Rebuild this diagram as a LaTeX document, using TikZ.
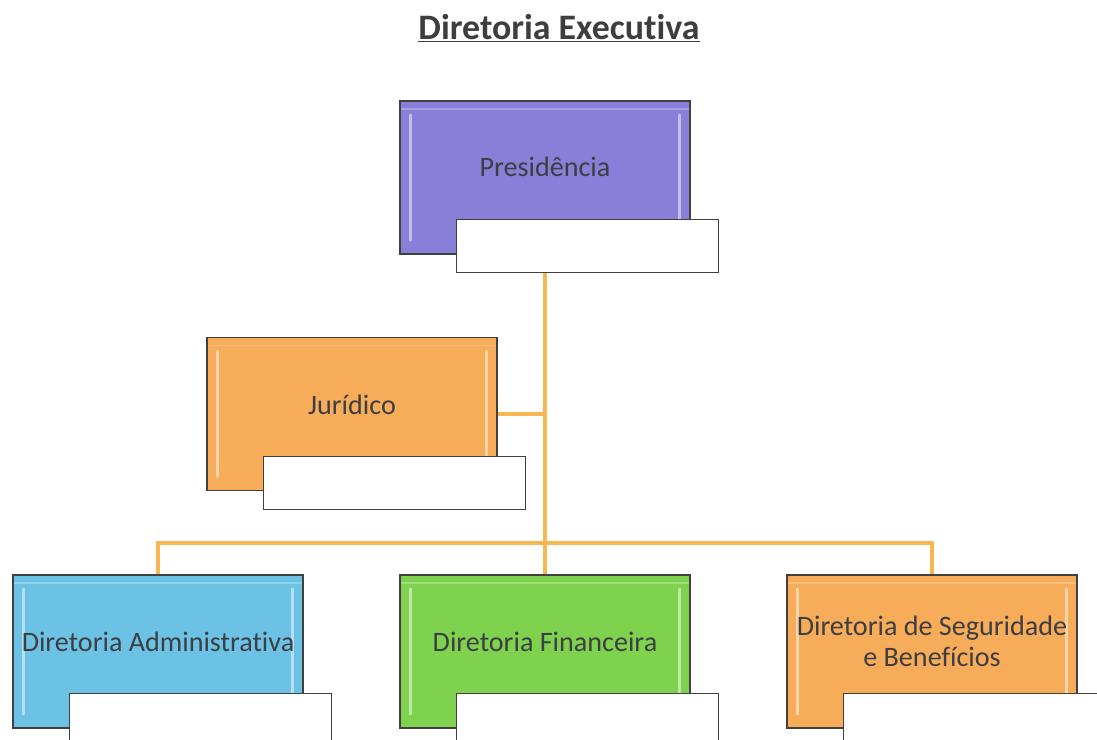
\documentclass[tikz,border=0pt]{standalone}
\usepackage{fontspec}
\setmainfont[Ligatures=NoCommon]{Carlito}
\usepackage{xcolor}
\usetikzlibrary{positioning,calc}

\definecolor{presColor}{RGB}{137,127,216}
\definecolor{jurColor}{RGB}{246,172,88}
\definecolor{admColor}{RGB}{108,194,228}
\definecolor{finColor}{RGB}{126,210,78}
\definecolor{lineColor}{RGB}{247,182,82}
\definecolor{txtColor}{RGB}{62,62,66}

\begin{document}
\begin{tikzpicture}[
  x=0.025cm, y=-0.025cm,
  box/.style={rectangle, draw=black!75, line width=1.1pt,
    minimum width=7.25cm, minimum height=3.825cm, inner sep=0pt,
    path picture={
      \draw[white, opacity=0.5, line width=2.2pt, line cap=round]
        ([xshift=2.6mm,yshift=-3.5mm]path picture bounding box.north west) --
        ([xshift=2.6mm,yshift=3.5mm]path picture bounding box.south west);
      \draw[white, opacity=0.5, line width=2.2pt, line cap=round]
        ([xshift=-2.6mm,yshift=-3.5mm]path picture bounding box.north east) --
        ([xshift=-2.6mm,yshift=3.5mm]path picture bounding box.south east);
      \draw[white, opacity=0.25, line width=0.8pt]
        ([yshift=-2mm]path picture bounding box.north west) --
        ([yshift=-2mm]path picture bounding box.north east);
    }},
  sub/.style={rectangle, draw=black!75, line width=0.8pt, fill=white,
    minimum width=6.55cm, minimum height=1.325cm, anchor=north west},
  txt/.style={font=\fontsize{20}{22}\selectfont, text=txtColor, align=center},
  link/.style={draw=lineColor, line width=2.4pt},
]
  \useasboundingbox (0,0) rectangle (1097,740);
  \clip (0,0) rectangle (1097,740);

  % title
  \node[font=\fontsize{25.5}{29}\selectfont\bfseries, text=txtColor] (title) at (559,28)
    {\underline{Diretoria Executiva}};

  % main boxes
  \node[box, fill=presColor, label={[txt, yshift=0.26cm]center:Presidência}] (pres) at (545,177.5) {};
  \node[box, fill=jurColor, label={[txt, yshift=0.22cm]center:Jurídico}] (jur) at (352,414) {};
  \node[box, fill=admColor, label={[txt, yshift=0.25cm]center:Diretoria Administrativa}] (adm) at (158,651.5) {};
  \node[box, fill=finColor, label={[txt, yshift=0.25cm]center:Diretoria Financeira}] (fin) at (545,651.5) {};
  \node[box, fill=jurColor, label={[txt, yshift=0.25cm]center:Diretoria de Seguridade\\e Benefícios}] (seg) at (932,651.5) {};

  % white name boxes
  \node[sub] (presSub) at ([xshift=1.425cm,yshift=0.9cm]pres.south west) {};
  \node[sub] (jurSub) at ([xshift=1.425cm,yshift=0.875cm]jur.south west) {};
  \node[sub] (admSub) at ([xshift=1.425cm,yshift=0.9cm]adm.south west) {};
  \node[sub] (finSub) at ([xshift=1.425cm,yshift=0.9cm]fin.south west) {};
  \node[sub] (segSub) at ([xshift=1.425cm,yshift=0.9cm]seg.south west) {};

  % connectors
  \coordinate (bar) at (545,543);
  \draw[link] (presSub.south -| pres.south) -- (fin.north);
  \draw[link] (jur.east) -- (jur.east -| pres.south);
  \draw[link] (adm.north) |- (bar) -| (seg.north);
\end{tikzpicture}
\end{document}
